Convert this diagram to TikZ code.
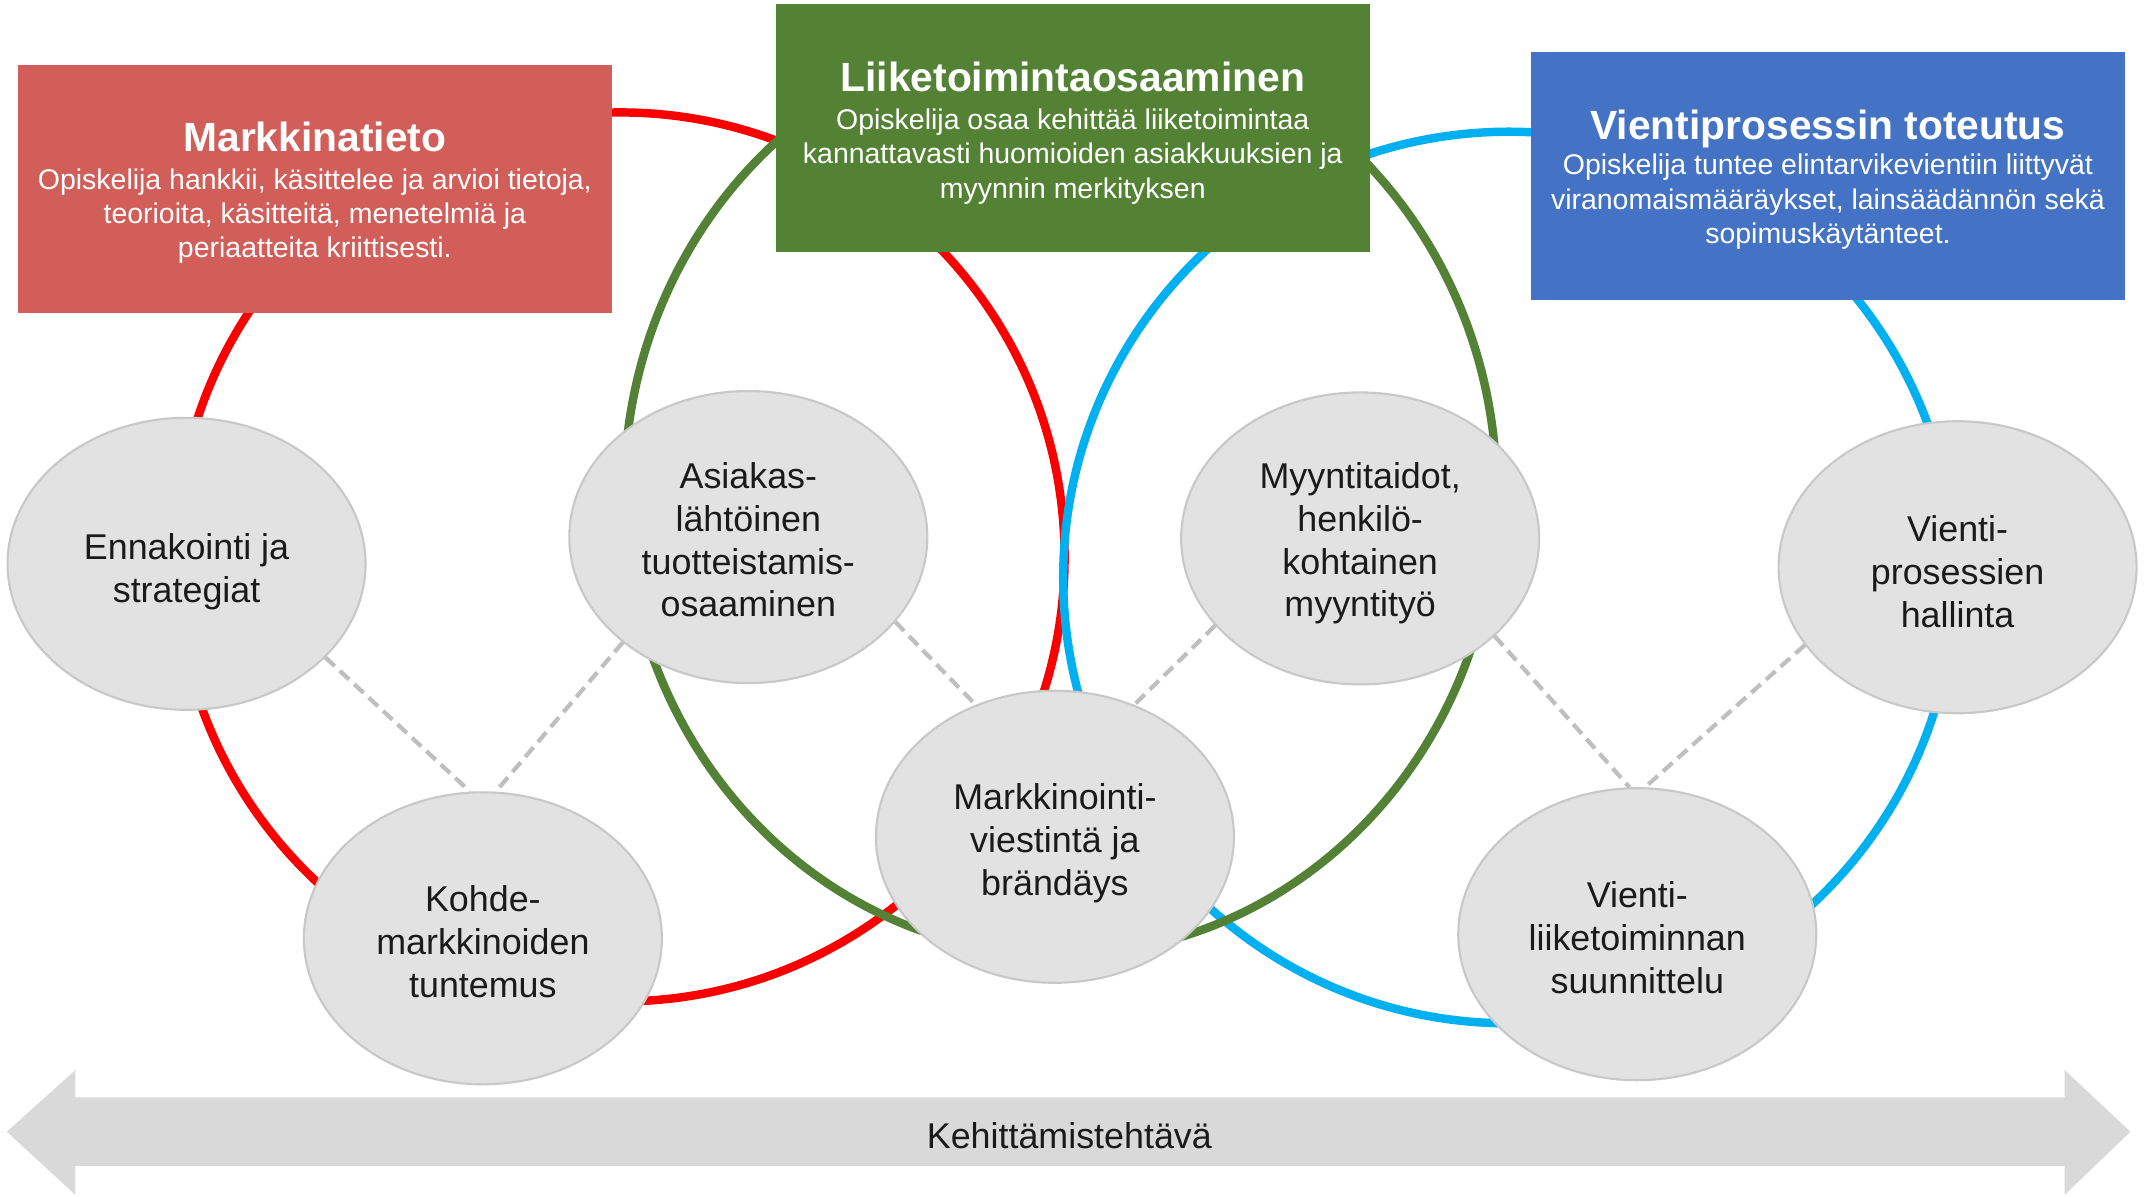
\documentclass[tikz,border=0pt]{standalone}
\usepackage{fontspec}
\setmainfont{Liberation Sans}
\usetikzlibrary{shapes.geometric}
\definecolor{boxred}{RGB}{210,94,90}
\definecolor{boxgreen}{RGB}{84,130,53}
\definecolor{boxblue}{RGB}{68,114,196}
\definecolor{ringred}{RGB}{250,0,0}
\definecolor{ringgreen}{RGB}{83,129,53}
\definecolor{ringblue}{RGB}{0,176,240}
\definecolor{ellfill}{RGB}{226,226,226}
\definecolor{ellborder}{RGB}{200,200,200}
\definecolor{dashgray}{RGB}{191,191,191}
\definecolor{arrowgray}{RGB}{217,217,217}
\definecolor{txtdark}{RGB}{26,26,26}
\newcommand\mytitlefont{\bfseries\fontsize{11.6}{14}\selectfont}
\newcommand\mybodyfont{\fontsize{8.1}{9.8}\selectfont}
\newcommand\elltext[2][2.2pt]{\raisebox{-#1}[\height][\depth]{\begin{tabular}{@{}c@{}}#2\end{tabular}}}
% #1 shift, #2 gap, #3 title, #4 body lines
\newcommand\boxtext[4]{\raisebox{-#1}[\height][\depth]{\mybodyfont\begin{tabular}{@{}c@{}}{\mytitlefont #3}\\[#2]#4\end{tabular}}}
\begin{document}
\begin{tikzpicture}[x=0.013718cm, y=-0.013718cm,
  blob/.style={ellipse, draw=ellborder, fill=ellfill, line width=0.6pt,
    minimum width=3.58cm, minimum height=2.92cm, inner sep=0pt,
    font=\fontsize{10.2}{12.2}\selectfont, text=txtdark},
  titlebox/.style={rectangle, inner sep=0pt, text=white,
    minimum height=2.48cm, minimum width=5.94cm},
  ring/.style={line width=2.4pt},
  link/.style={draw=dashgray, line width=1.2pt, dash pattern=on 3.6pt off 2pt}]
\useasboundingbox (0,0) rectangle (1568,872);
\fill[white] (0,0) rectangle (1568,872);

% rings
\draw[ring, draw=ringred] (452,406) circle[radius=4.445cm];
\draw[ring, draw=ringblue] (1100,421) circle[radius=4.458cm];
\draw[ring, draw=ringgreen] (773,359) ellipse[x radius=4.362cm, y radius=4.623cm];

% competence ellipses
\node[blob] (enna) at (136,411) {\elltext[2.4pt]{Ennakointi ja\\strategiat}};
\node[blob] (asiak) at (545.5,391.5) {\elltext[2.0pt]{Asiakas-\\lähtöinen\\tuotteistamis-\\osaaminen}};
\node[blob] (myynti) at (991.5,392.5) {\elltext[1.6pt]{Myyntitaidot,\\henkilö-\\kohtainen\\myyntityö}};
\node[blob] (vproc) at (1427,413.5) {\elltext[2.4pt]{Vienti-\\prosessien\\hallinta}};
\node[blob] (kohde) at (352,684) {\elltext{Kohde-\\markkinoiden\\tuntemus}};
\node[blob] (markk) at (769,610) {\elltext[2pt]{Markkinointi-\\viestintä ja\\brändäys}};
\node[blob] (vliik) at (1193.5,681) {\elltext{Vienti-\\liiketoiminnan\\suunnittelu}};

% dashed links
\draw[link] (enna.-34) -- (kohde.95);
\draw[link] (asiak.220) -- (kohde.85);
\draw[link] (asiak.-30) -- (markk.121);
\draw[link] (myynti.211) -- (markk.59);
\draw[link] (myynti.-36) -- (vliik.93);
\draw[link] (vproc.207) -- (vliik.87);

% title boxes
\node[titlebox, fill=boxred] (mt) at (229.5,137.5)
  {\boxtext{1.8pt}{1.0pt}{Markkinatieto}{Opiskelija hankkii, käsittelee ja arvioi tietoja,\\teorioita, käsitteitä, menetelmiä ja\\periaatteita kriittisesti.}};
\node[titlebox, fill=boxgreen] (lo) at (782,93.5)
  {\boxtext{2.0pt}{1.0pt}{Liiketoimintaosaaminen}{Opiskelija osaa kehittää liiketoimintaa\\kannattavasti huomioiden asiakkuuksien ja\\myynnin merkityksen}};
\node[titlebox, fill=boxblue] (vt) at (1332.5,128)
  {\boxtext{1.8pt}{0.2pt}{Vientiprosessin toteutus}{Opiskelija tuntee elintarvikevientiin liittyvät\\viranomaismääräykset, lainsäädännön sekä\\sopimuskäytänteet.}};

% bottom double arrow
\fill[arrowgray] (5,825) -- (55,780) -- (55,800) -- (1505,800) -- (1505,780)
  -- (1553,825) -- (1505,871) -- (1505,850) -- (55,850) -- (55,871) -- cycle;
\node[font=\fontsize{10.2}{12}\selectfont, text=txtdark] (kt) at (779.5,828) {Kehittämistehtävä};
\end{tikzpicture}
\end{document}
